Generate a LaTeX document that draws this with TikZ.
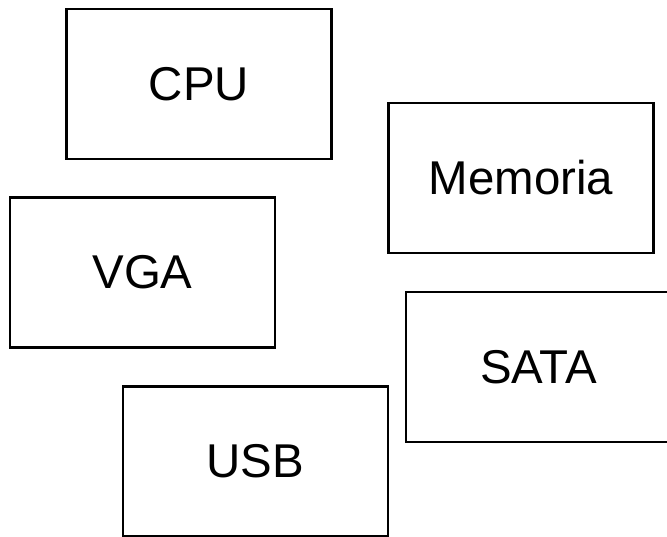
\documentclass[tikz,border=0pt]{standalone}
\usepackage{fontspec}
\setmainfont{Liberation Sans}
\usetikzlibrary{positioning}

\tikzset{bloque/.style={draw, line width=1.6pt, minimum width=5.3cm, minimum height=3cm, inner sep=0pt, font=\fontsize{27}{32}\selectfont}}

\begin{document}
\begin{tikzpicture}[x=0.02cm, y=-0.02cm]
\useasboundingbox (0,0) rectangle (667,537);
\node[bloque] (cpu) at (199,84) {CPU};
\node[bloque] (mem) at (521,178) {Memoria};
\node[bloque] (vga) at (142.5,272.5) {VGA};
\node[bloque] (sata) at (538.5,367) {SATA};
\node[bloque] (usb) at (255.5,461.5) {USB};
\end{tikzpicture}
\end{document}
